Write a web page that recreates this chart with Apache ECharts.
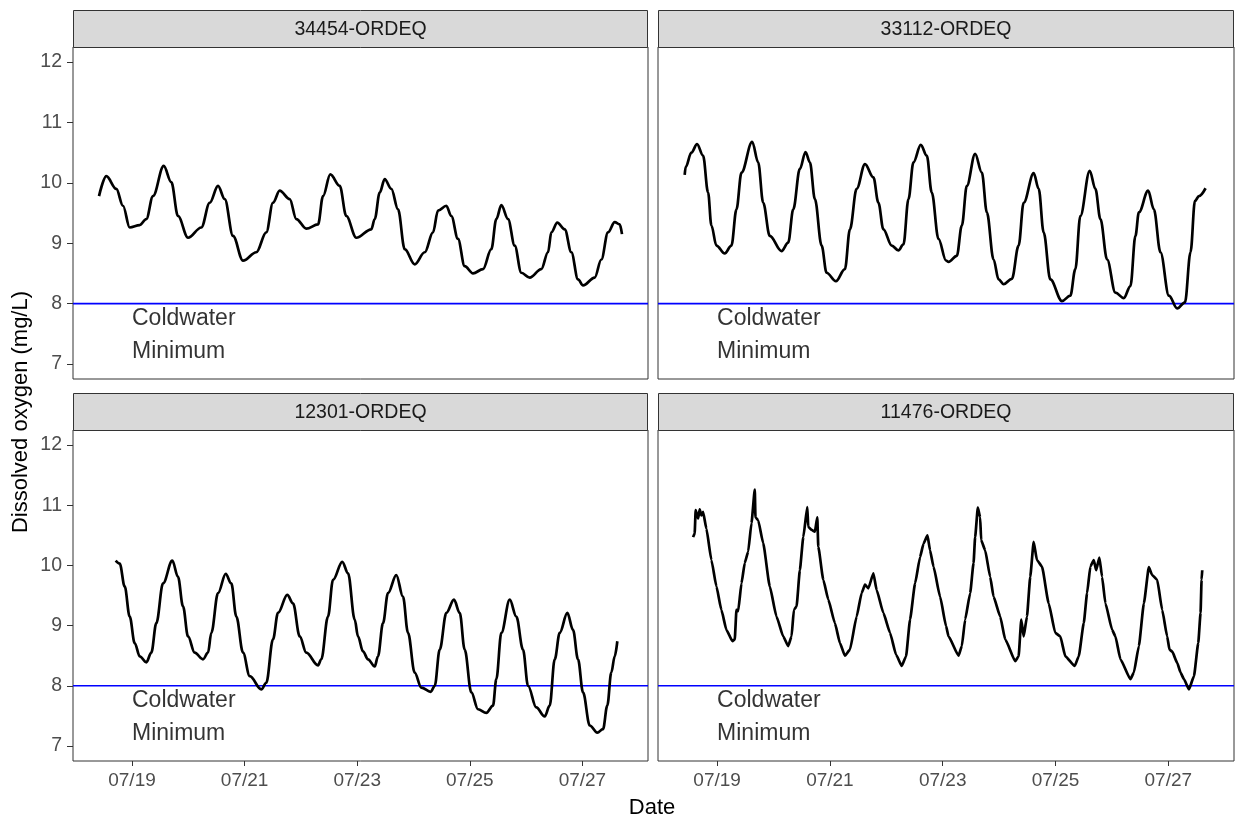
<!DOCTYPE html>
<html>
<head>
<meta charset="utf-8">
<script src="https://cdn.jsdelivr.net/npm/echarts@6/dist/echarts.min.js"></script>
<style>
html,body{margin:0;padding:0;background:#fff;}
#chart{width:1236px;height:822px;}
</style>
</head>
<body>
<div id="chart"></div>
<script>
// ---------------- DATA ----------------
// x values are day-of-July (decimal), y values are dissolved oxygen (mg/L)
var sites = ['34454-ORDEQ', '33112-ORDEQ', '12301-ORDEQ', '11476-ORDEQ'];

var day34454 = [18.414,18.544,18.721,18.840,18.959,19.137,19.254,19.373,19.563,19.698,19.817,19.995,20.231,20.380,20.528,20.647,20.794,20.972,21.208,21.385,21.504,21.623,21.801,21.918,22.096,22.304,22.393,22.522,22.689,22.806,22.984,23.250,23.311,23.400,23.488,23.606,23.725,23.844,24.021,24.199,24.346,24.435,24.583,24.671,24.790,24.909,25.057,25.234,25.382,25.471,25.560,25.679,25.797,25.915,26.064,26.270,26.389,26.448,26.554,26.686,26.803,26.922,27.011,27.218,27.336,27.455,27.574,27.663,27.703];
var do34454  = [9.78,10.11,9.90,9.62,9.26,9.30,9.40,9.78,10.28,10.01,9.45,9.09,9.26,9.67,9.95,9.73,9.12,8.71,8.85,9.18,9.67,9.87,9.73,9.40,9.24,9.31,9.78,10.14,9.95,9.45,9.09,9.23,9.40,9.84,10.06,9.90,9.56,8.90,8.65,8.85,9.18,9.54,9.62,9.45,9.07,8.62,8.50,8.57,8.90,9.40,9.63,9.40,8.96,8.51,8.43,8.57,8.85,9.18,9.34,9.23,8.85,8.40,8.30,8.43,8.73,9.18,9.35,9.31,9.15];

var day33112 = [18.425,18.442,18.544,18.645,18.751,18.840,18.899,18.988,19.135,19.254,19.343,19.432,19.622,19.728,19.817,19.934,20.142,20.261,20.350,20.467,20.568,20.645,20.734,20.853,20.941,21.107,21.266,21.355,21.474,21.622,21.771,21.860,21.948,22.096,22.215,22.304,22.393,22.481,22.611,22.718,22.806,22.925,23.060,23.103,23.250,23.339,23.428,23.575,23.694,23.783,23.902,23.991,24.080,24.227,24.346,24.435,24.613,24.702,24.790,24.908,25.115,25.263,25.352,25.440,25.607,25.707,25.796,25.915,26.062,26.211,26.329,26.417,26.478,26.643,26.744,26.861,27.011,27.158,27.295,27.394,27.473,27.544,27.661];
var do33112  = [10.13,10.26,10.50,10.64,10.45,9.84,9.29,8.96,8.83,8.96,9.56,10.17,10.68,10.34,9.67,9.12,8.87,9.01,9.56,10.23,10.51,10.34,9.73,8.96,8.51,8.37,8.57,9.23,9.90,10.31,10.09,9.67,9.23,8.96,8.88,8.98,9.73,10.34,10.63,10.45,9.84,9.07,8.71,8.69,8.79,9.29,9.95,10.48,10.17,9.51,8.73,8.40,8.32,8.41,8.96,9.67,10.16,9.90,9.18,8.40,8.04,8.13,8.57,9.45,10.20,9.90,9.40,8.73,8.18,8.09,8.29,9.12,9.51,9.87,9.56,8.85,8.13,7.92,8.02,8.85,9.70,9.78,9.91];

var day12301 = [18.710,18.782,18.870,18.959,19.048,19.137,19.254,19.343,19.432,19.551,19.716,19.817,19.906,19.995,20.114,20.261,20.350,20.409,20.528,20.664,20.764,20.853,20.972,21.091,21.297,21.385,21.504,21.593,21.758,21.860,21.979,22.096,22.304,22.362,22.481,22.570,22.735,22.837,22.956,23.014,23.103,23.192,23.311,23.369,23.458,23.547,23.694,23.813,23.902,24.021,24.139,24.306,24.377,24.465,24.583,24.719,24.821,24.909,25.027,25.146,25.293,25.412,25.471,25.560,25.709,25.826,25.945,26.034,26.181,26.330,26.419,26.508,26.597,26.732,26.833,26.922,27.011,27.130,27.265,27.366,27.442,27.513,27.574,27.620];
var do12301  = [10.08,10.03,9.65,9.15,8.71,8.49,8.39,8.55,9.04,9.70,10.08,9.81,9.32,8.82,8.55,8.44,8.55,8.88,9.54,9.86,9.70,9.15,8.55,8.16,7.94,8.05,8.77,9.21,9.51,9.37,8.82,8.55,8.34,8.44,9.15,9.76,10.06,9.87,9.10,8.82,8.57,8.44,8.32,8.49,9.04,9.54,9.84,9.48,8.88,8.22,7.97,7.90,8.00,8.60,9.21,9.43,9.21,8.60,7.89,7.61,7.55,7.67,8.11,8.88,9.43,9.15,8.60,8.00,7.64,7.49,7.67,8.44,8.88,9.21,8.93,8.44,7.89,7.34,7.22,7.28,7.67,8.22,8.49,8.74];

var day11476 = [18.574,18.602,18.620,18.663,18.691,18.721,18.751,18.810,18.899,18.988,19.076,19.165,19.272,19.313,19.343,19.373,19.432,19.490,19.551,19.609,19.668,19.680,19.728,19.817,19.934,20.053,20.172,20.261,20.320,20.361,20.409,20.467,20.528,20.599,20.616,20.675,20.734,20.776,20.794,20.883,20.972,21.089,21.178,21.266,21.355,21.474,21.563,21.622,21.682,21.771,21.829,21.948,22.066,22.172,22.274,22.350,22.421,22.510,22.599,22.659,22.730,22.776,22.837,22.954,23.060,23.103,23.281,23.339,23.398,23.487,23.547,23.575,23.623,23.664,23.682,23.753,23.842,23.902,24.020,24.108,24.286,24.346,24.393,24.435,24.494,24.552,24.613,24.671,24.760,24.879,24.996,25.085,25.174,25.341,25.412,25.501,25.560,25.618,25.679,25.720,25.778,25.826,25.885,26.004,26.062,26.151,26.329,26.389,26.478,26.567,26.655,26.714,26.803,26.892,26.980,27.021,27.069,27.158,27.217,27.277,27.366,27.455,27.531,27.572,27.590,27.602];
var do11476  = [10.47,10.53,10.92,10.78,10.93,10.83,10.89,10.61,10.09,9.65,9.26,8.93,8.74,8.77,9.26,9.24,9.70,10.04,10.23,10.70,11.26,10.80,10.75,10.37,9.65,9.15,8.82,8.66,8.82,9.26,9.32,9.92,10.47,10.97,10.64,10.59,10.56,10.80,10.31,9.76,9.43,9.04,8.71,8.50,8.60,9.15,9.54,9.68,9.62,9.87,9.59,9.21,8.88,8.52,8.33,8.49,9.10,9.70,10.14,10.36,10.50,10.25,9.98,9.48,8.99,8.82,8.50,8.66,9.10,9.54,10.04,10.47,10.96,10.80,10.42,10.25,9.81,9.48,9.15,8.77,8.41,8.49,9.10,8.82,9.15,9.81,10.39,10.09,9.98,9.37,8.88,8.82,8.49,8.33,8.49,9.04,9.54,9.98,10.09,9.92,10.13,9.81,9.37,8.93,8.82,8.44,8.11,8.22,8.66,9.37,9.97,9.84,9.76,9.26,8.82,8.60,8.57,8.38,8.22,8.11,7.94,8.16,8.71,9.21,9.76,9.92];

var seriesDays = [day34454, day33112, day12301, day11476];
var seriesDO   = [do34454, do33112, do12301, do11476];

var criterion = 8;                        // coldwater minimum (mg/L)
var annoText = ['Coldwater', 'Minimum'];
var annoDay  = 19.0;
var annoDO   = [7.75, 7.2];

var xMin = 17.952, xMax = 28.165;          // axis limits (day of July)
var yMin = 6.75, yMax = 12.25;             // axis limits (mg/L)
var yTicks = [7, 8, 9, 10, 11, 12];
var xTickDays = [19, 21, 23, 25, 27];
var xTickLabels = ['07/19', '07/21', '07/23', '07/25', '07/27'];

// ---------------- LAYOUT ----------------
var FONT = '"Liberation Sans", Arial, sans-serif';
var panels = [
  {left: 73,  top: 47,  width: 575, height: 332},
  {left: 658, top: 47,  width: 576, height: 332},
  {left: 73,  top: 430, width: 575, height: 331},
  {left: 658, top: 430, width: 576, height: 331}
];
var stripH = 37;

var grid = [], xAxis = [], yAxis = [], series = [], graphic = [];

panels.forEach(function (p, i) {
  var isLeft = (i % 2 === 0), isBottom = (i >= 2);
  grid.push({left: p.left, top: p.top, width: p.width, height: p.height,
    show: true, borderColor: '#333333', borderWidth: 1, backgroundColor: '#ffffff', containLabel: false});

  xAxis.push({
    type: 'value', gridIndex: i, min: xMin, max: xMax,
    axisLine: {show: false},
    splitLine: {show: false},
    axisTick: {show: isBottom, length: 5, lineStyle: {color: '#333333'}, customValues: xTickDays},
    axisLabel: {show: isBottom, color: '#4d4d4d', fontSize: 19, fontFamily: FONT, margin: 10,
      customValues: xTickDays,
      formatter: function (v) { return xTickLabels[xTickDays.indexOf(Math.round(v))]; }}
  });
  yAxis.push({
    type: 'value', gridIndex: i, min: yMin, max: yMax,
    axisLine: {show: false},
    splitLine: {show: false},
    axisTick: {show: isLeft, length: 6, lineStyle: {color: '#333333'}, customValues: yTicks},
    axisLabel: {show: isLeft, color: '#4d4d4d', fontSize: 19.5, fontFamily: FONT, margin: 11,
      customValues: yTicks}
  });

  // criterion line (blue, y = 8) across the panel
  series.push({
    type: 'line', xAxisIndex: i, yAxisIndex: i, silent: true,
    data: [[xMin, criterion], [xMax, criterion]],
    showSymbol: false, symbol: 'none',
    lineStyle: {color: '#0000ff', width: 1.7}, z: 2
  });

  var pts = seriesDays[i].map(function (d, k) { return [d, seriesDO[i][k]]; });
  series.push({
    type: 'line', xAxisIndex: i, yAxisIndex: i, data: pts,
    showSymbol: false, symbol: 'none', smooth: (i === 3 ? 0.15 : 0.35), smoothMonotone: 'x',
    lineStyle: {color: '#000000', width: 2.7}, z: 3, silent: true
  });
  series.push({
    type: 'scatter', xAxisIndex: i, yAxisIndex: i, symbolSize: 0, silent: true,
    data: annoDO.map(function (y, k) { return {value: [annoDay, y], name: annoText[k]}; }),
    label: {show: true, position: 'right', distance: 0, formatter: '{b}',
      color: '#000000', fontSize: 23, fontFamily: FONT}
  });

  // strip
  graphic.push({type: 'rect', shape: {x: p.left + 0.5, y: p.top - stripH + 0.5, width: p.width - 1, height: stripH},
    style: {fill: '#d9d9d9', stroke: '#333333', lineWidth: 1}, z: 10});
  graphic.push({type: 'text', x: p.left + p.width / 2, y: p.top - stripH / 2 + 1,
    style: {text: sites[i], fill: '#1a1a1a', font: '19.5px ' + FONT, textAlign: 'center', textVerticalAlign: 'middle'}, z: 11});
});

graphic.push({type: 'text', x: 652, y: 808,
  style: {text: 'Date', fill: '#000000', font: '22px ' + FONT, textAlign: 'center', textVerticalAlign: 'middle'}});
graphic.push({type: 'text', x: 21, y: 412, rotation: Math.PI / 2,
  style: {text: 'Dissolved oxygen (mg/L)', fill: '#000000', font: '22px ' + FONT, textAlign: 'center', textVerticalAlign: 'middle'}});

var chart = echarts.init(document.getElementById('chart'), null, {renderer: 'canvas'});
chart.setOption({
  animation: false,
  backgroundColor: '#ffffff',
  grid: grid, xAxis: xAxis, yAxis: yAxis, series: series, graphic: graphic
});
</script>
</body>
</html>
